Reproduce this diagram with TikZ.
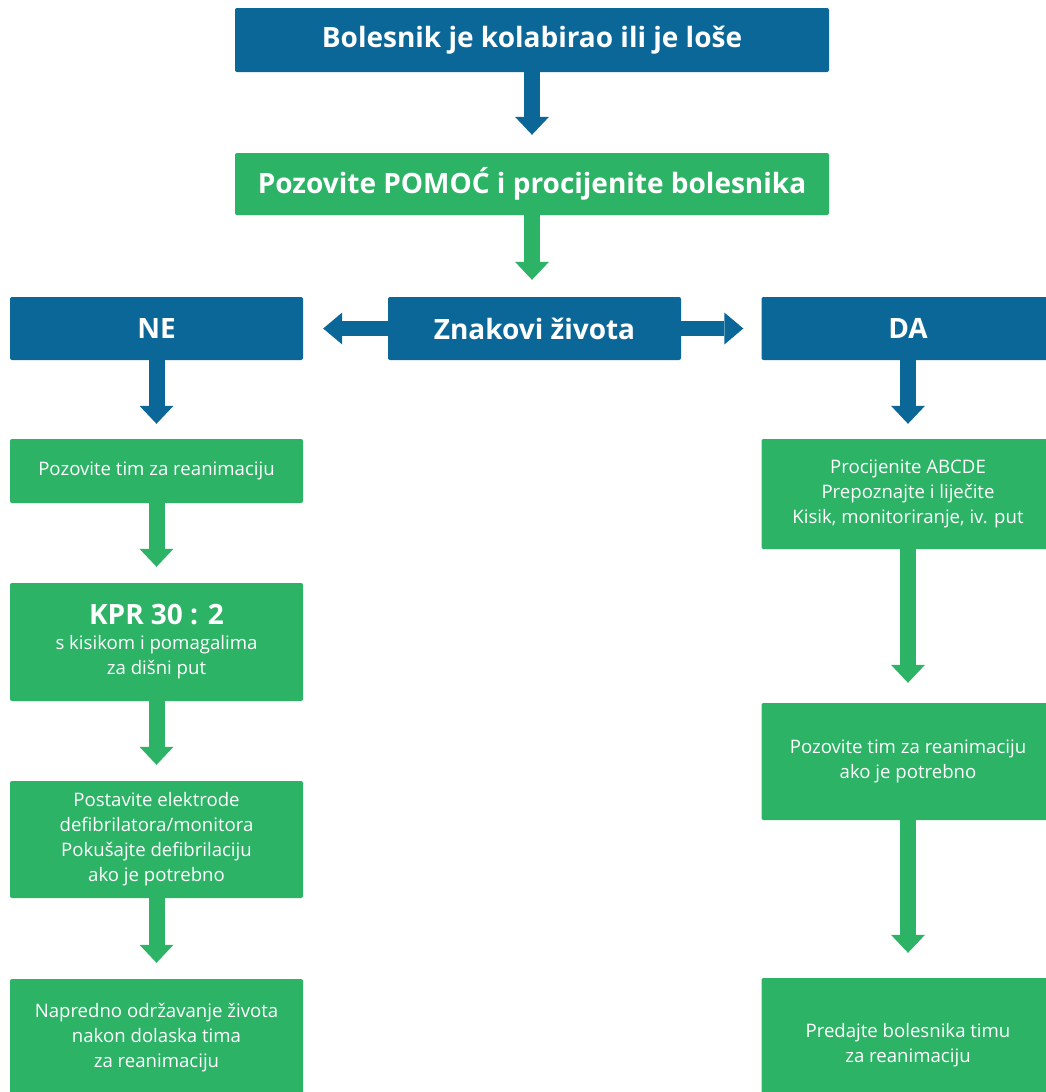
\documentclass[tikz,border=0pt]{standalone}
\usepackage{fontspec}
\setmainfont{Open Sans}
\usetikzlibrary{arrows.meta}
\definecolor{bblue}{HTML}{0A6798}
\definecolor{bgreen}{HTML}{2DB366}
\begin{document}
\begin{tikzpicture}[x=1pt,y=-1pt,
  box/.style={minimum width=293pt, inner sep=0pt, align=center, text=white, rounded corners=2pt},
  headfont/.style={font=\fontsize{28}{34}\selectfont\bfseries},
  bodyfont/.style={font=\fontsize{18.6}{25}\selectfont},
  bbox/.style={box, fill=bblue, headfont},
  ghead/.style={box, fill=bgreen, headfont},
  gbox/.style={box, fill=bgreen, bodyfont},
  varrow/.style={line width=16pt, -{Triangle[width=34pt,length=18pt,line width=0pt]}},
  harrow/.style={line width=15pt, -{Triangle[width=32pt,length=19pt,line width=0pt]}},
  bv/.style={varrow, draw=bblue},
  gv/.style={varrow, draw=bgreen},
  bh/.style={harrow, draw=bblue}]
\useasboundingbox (0,0) rectangle (1046,1092);
\clip (0,0) rectangle (1046,1092);
\fill[white] (0,0) rectangle (1046,1092);

% top row
\node[bbox, minimum width=594pt, minimum height=64pt] (top) at (532,40) {Bolesnik je kolabirao ili je loše};
\node[ghead, minimum width=594pt, minimum height=62pt] (help) at (532,184) {Pozovite POMOĆ i procijenite bolesnika};
\node[bbox, minimum height=63pt] (znak) at (534.5,328.5) {Znakovi života};
\node[bbox, minimum height=63pt] (ne) at (156.5,328.5) {NE};
\node[bbox, minimum height=63pt] (da) at (908,328.5) {DA};

% left column
\node[gbox, minimum height=64pt] (l1) at (156.5,471) {Pozovite tim za reanimaciju};
\node[gbox, minimum height=118pt] (l2) at (156.5,642) {{\fontsize{28}{34}\selectfont\bfseries KPR 30 : 2}\\ s kisikom i pomagalima\\ za dišni put};
\node[gbox, minimum height=117pt] (l3) at (156.5,839.5) {Postavite elektrode\\ defibrilatora/monitora\\ Pokušajte defibrilaciju\\ ako je potrebno};
\node[gbox, minimum height=118pt] (l4) at (156.5,1038) {Napredno održavanje života\\ nakon dolaska tima\\ za reanimaciju};

% right column
\node[gbox, minimum height=110pt] (r1) at (908,494) {Procijenite ABCDE\\ Prepoznajte i liječite\\ Kisik, monitoriranje, iv. put};
\node[gbox, minimum height=117pt] (r2) at (908,761.5) {Pozovite tim za reanimaciju\\ ako je potrebno};
\node[gbox, minimum height=134pt] (r3) at (908,1045) {Predajte bolesnika timu\\ za reanimaciju};

% connectors
\draw[bv, shorten >=18pt] (top) -- (help);
\draw[gv, shorten >=17pt] (help.south) -- (help.south |- znak.north);
\draw[bh, shorten >=20pt] (znak.west) -- (ne.east);
\draw[bh, shorten >=18pt] (znak.east) -- (da.west);
\draw[bv, shorten >=15pt] (ne) -- (l1);
\draw[gv, shorten >=16pt] (l1) -- (l2);
\draw[gv, shorten >=16pt] (l2) -- (l3);
\draw[gv, shorten >=16pt] (l3) -- (l4);
\draw[bv, shorten >=15pt] (da) -- (r1);
\draw[gv, shorten >=20pt] (r1) -- (r2);
\draw[gv, shorten >=25pt] (r2) -- (r3);
\end{tikzpicture}
\end{document}
